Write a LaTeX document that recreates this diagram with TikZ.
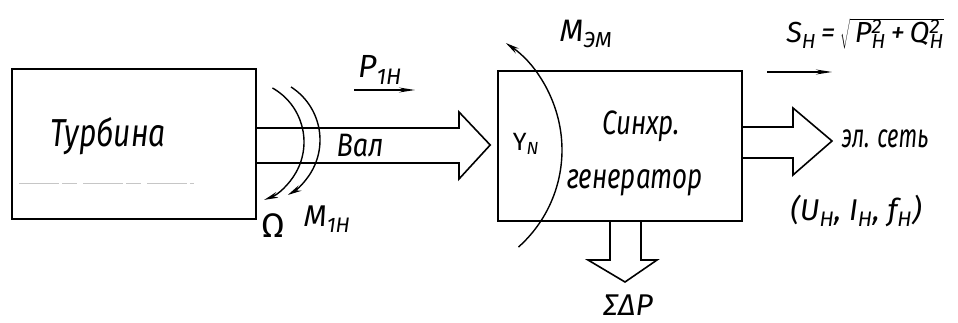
\documentclass[tikz,border=0pt]{standalone}
\usepackage{fontspec}
\setmainfont{Fira Sans}
\usetikzlibrary{arrows.meta}

\newcommand{\fs}[1]{\fontsize{#1}{#1}\selectfont}
\newcommand{\supsub}[2]{\rlap{\textsuperscript{#1}}\textsubscript{#2}}

\begin{document}
\begin{tikzpicture}[
  x=1pt, y=1pt,
  font=\itshape\fs{27},
  blk/.style={draw, line width=1.6pt, minimum width=244pt, minimum height=150pt},
  lbl/.style={inner sep=0pt},
  tall/.style={lbl, yscale=#1, transform shape},
  fat/.style={line width=1.6pt, line join=miter},
  spin/.style={line width=1.4pt, -{Stealth[length=14pt, width=6pt]}},
  flow/.style={line width=1.4pt, -{Stealth[length=16pt, width=5pt]}}
]
\useasboundingbox (0,0) rectangle (958,323);

\node[blk] (turb) at (134,179) {};
\node[blk] (gen) at (620,177) {};

\node[tall=1.3, font=\itshape\fs{30}] (turbtxt) at (108,187) {Турбина};
\draw[gray!45, line width=0.8pt, dash pattern=on 40pt off 3pt on 15pt off 6pt]
  ([xshift=8pt, yshift=-39pt]turb.west) -- ([xshift=60pt, yshift=-39pt]turb.center);

% shaft
\coordinate (s1) at (turb.east |- 0,195);
\coordinate (s2) at (turb.east |- 0,160);
\coordinate (stip) at ([xshift=-7pt]gen.west |- 0,178);
\draw[fat] (s1) -- (459,195) -- (459,211) -- (stip) -- (459,144) -- (459,160) -- (s2);
\node[tall=1.2] (val) at (360,177) {Вал};

\node[lbl, font=\itshape\fs{32}] (p1h) at (380,253) {P\textsubscript{1H}};
\coordinate (pa) at (354,233);
\coordinate (pb) at (415,233);
\draw[flow] (pa) -- (pb);

\coordinate (om) at (242,181);
\coordinate (mt) at (257,183);
\draw[spin] ([shift={(60.6:62)}]om) arc[start angle=60.6, end angle=-69, radius=62];
\draw[spin] ([shift={(57.3:63)}]mt) arc[start angle=57.3, end angle=-60.8, radius=63];
\node[lbl, font=\fs{34}] (omega) at (273,97) {Ω};
\node[lbl, font=\itshape\fs{30}] (m1h) at (327,104) {M\textsubscript{1H}};

% generator
\node[tall=1.3, font=\itshape\fs{26}] (sinhr) at (641,197) {Синхр.};
\node[tall=1.35, font=\itshape\fs{26}] (gentxt) at (635,140) {генератор};
\coordinate (yc) at (432,173);
\draw[spin] ([shift={(-48.3:130)}]yc) arc[start angle=-48.3, end angle=55.4, radius=130];
\node[lbl, font=\fs{25}] (yn) at (526,179) {Y\textsubscript{\itshape N}};
\node[lbl, font=\itshape\fs{31}] (mem) at (586,289) {M\textsubscript{ЭМ}};

% output
\coordinate (o1) at (gen.east |- 0,196);
\coordinate (o2) at (gen.east |- 0,165);
\draw[fat] (o1) -- (793,196) -- (793,215) -- (832,182) -- (793,148) -- (793,165) -- (o2);
\node[tall=1.5, font=\itshape\fs{22}] (net) at (885,184) {эл. сеть};
\node[lbl, font=\itshape\fs{30}] (uif) at (856,112)
  {(U\textsubscript{H}, I\textsubscript{H}, f\textsubscript{H})};

\node[lbl, font=\itshape\fs{29}] (sh) at (865,289)
  {S\textsubscript{H}\,=\,$\sqrt{\vphantom{\bigg|}\mbox{\,P\supsub{2}{H}\,+\,Q\supsub{2}{H}}}$};
\coordinate (sa) at (767,251);
\coordinate (sb) at (832,251);
\draw[flow] (sa) -- (sb);

% losses
\coordinate (l1) at (gen.south -| 610,0);
\coordinate (l2) at (gen.south -| 641,0);
\draw[fat] (l1) -- (610,63) -- (588,63) -- (625,41) -- (657,63) -- (641,63) -- (l2);
\node[lbl, font=\itshape\fs{30}] (loss) at (628,18) {ΣΔP};

\end{tikzpicture}
\end{document}
